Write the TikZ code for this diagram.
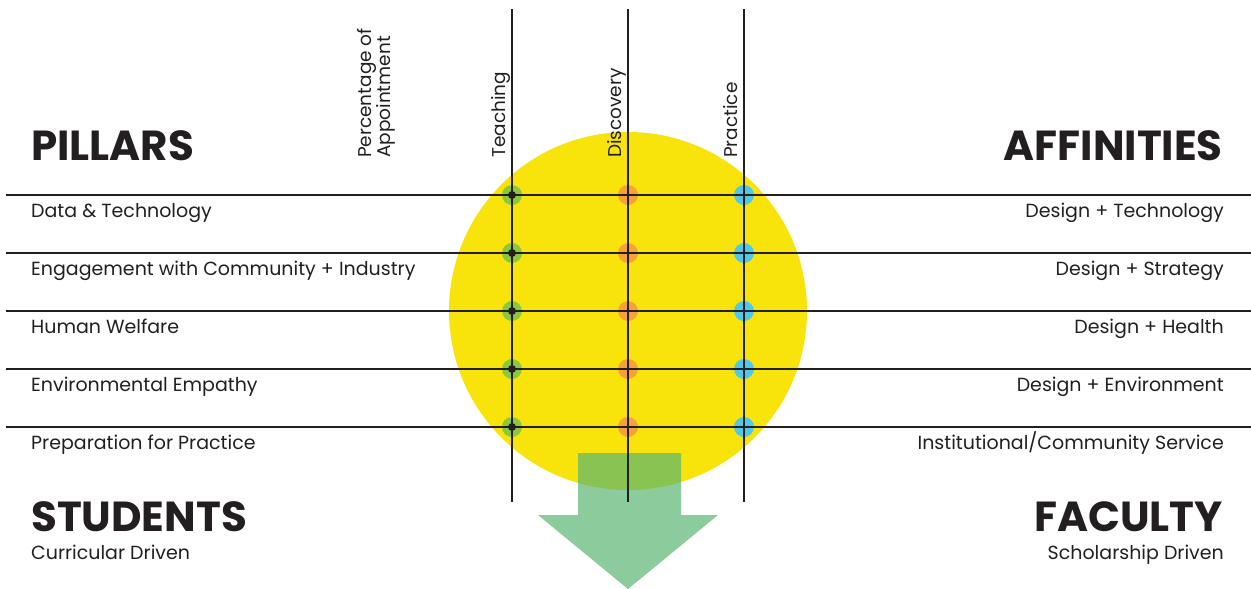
\documentclass[tikz,border=0pt]{standalone}
\usepackage{fontspec}
\setmainfont{Poppins}
\usetikzlibrary{positioning}
\definecolor{ink}{HTML}{231F20}
\definecolor{sunyellow}{HTML}{F8E40A}
\definecolor{leafgreen}{HTML}{8DC63F}
\definecolor{peachorange}{HTML}{F7A13B}
\definecolor{skyblue}{HTML}{52C8E8}
\definecolor{arrowgreen}{HTML}{5BB570}
\tikzstyle{grid line}=[draw=ink, line width=1.2pt]
\tikzstyle{label}=[text=ink, font=\fontsize{19}{22}\selectfont, inner sep=0pt]
\tikzstyle{column label}=[label, font=\fontsize{18.5}{21}\selectfont, rotate=90, anchor=base west]
\tikzstyle{heading}=[text=ink, font=\fontsize{42}{45}\selectfont\bfseries, inner sep=0pt]
\tikzstyle{dot}=[circle, minimum size=20pt, inner sep=0pt]
\tikzstyle{pin}=[circle, fill=ink, minimum size=8pt, inner sep=0pt]

\begin{document}
\begin{tikzpicture}[x=1pt, y=-1pt]
      \useasboundingbox (0, 0) rectangle (1251, 589);

      % circle and arrow
      \fill[sunyellow] (628, 311) circle (179);
      \fill[arrowgreen, opacity=0.7] (578, 453) -- (681, 453) -- (681, 515)
        -- (718, 515) -- (628, 589) -- (538, 515) -- (578, 515) -- cycle;

      % dots
      \foreach \i/\y in {1/195, 2/253, 3/311, 4/369, 5/427} {
        \node[dot, fill=leafgreen] (t\i) at (512, \y) {};
        \node[dot, fill=peachorange] (d\i) at (628, \y) {};
        \node[dot, fill=skyblue] (p\i) at (744, \y) {};
        \coordinate (row\i w) at (6, \y);
        \coordinate (row\i e) at (1251, \y);
        \draw[grid line] (row\i w) -- (row\i e);
      }
      \foreach \c/\x in {t/512, d/628, p/744} {
        \coordinate (\c top) at (\x, 9);
        \coordinate (\c bot) at (\x, 502);
        \draw[grid line] (\c top) -- (\c bot);
      }
      \foreach \i in {1,...,5}
        \node[pin] (t\i c) at (t\i) {};

      % column labels
      \node[column label] (pct1) at (371, 158) {Percentage of};
      \node[column label] (pct2) at (390, 158) {Appointment};
      \node[column label] (teach) at (505, 158) {Teaching};
      \node[column label] (disc) at (621, 158) {Discovery};
      \node[column label] (prac) at (737, 158) {Practice};

      % headings
      \node[heading, anchor=base west] (pillars) at (31, 160) {PILLARS};
      \node[heading, anchor=base east] (affin) at (1223, 160) {AFFINITIES};
      \node[heading, anchor=base west] (students) at (31, 531) {STUDENTS};
      \node[heading, anchor=base east] (faculty) at (1223, 531) {FACULTY};
      \node[label, anchor=base west] (curric) at (31, 559) {Curricular Driven};
      \node[label, anchor=base east] (schol) at (1224, 559) {Scholarship Driven};

      % row labels
      \foreach \i/\y/\l/\r in {
          1/217/Data \& Technology/Design + Technology,
          2/275/Engagement with Community + Industry/Design + Strategy,
          3/333/Human Welfare/Design + Health,
          4/391/Environmental Empathy/Design + Environment,
          5/449/Preparation for Practice/{Institutional/Community Service}} {
        \node[label, anchor=base west] (pillar\i) at (31, \y) {\l};
        \node[label, anchor=base east] (affinity\i) at (1224, \y) {\r};
      }
\end{tikzpicture}
\end{document}
